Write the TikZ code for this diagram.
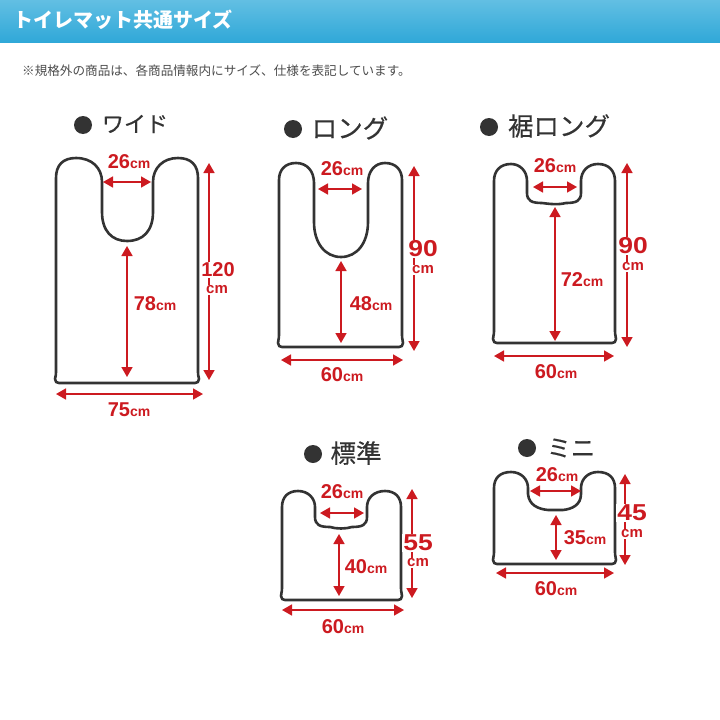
\documentclass[tikz,border=0pt]{standalone}
\usepackage{graphicx}
\usepackage{fontspec}
\setmainfont{Liberation Sans}
\newfontfamily\cjk{Noto Sans CJK JP}
\newfontfamily\cjkheavy[FakeBold=0.4]{Noto Sans CJK JP}
\usetikzlibrary{arrows.meta,positioning}
\definecolor{matgray}{HTML}{333333}
\definecolor{dimred}{HTML}{CC1A20}
\definecolor{headtop}{HTML}{62BFE3}
\definecolor{headbot}{HTML}{30A8D8}
\newcommand{\unitcm}{{\fontsize{14}{14}\selectfont cm}}
\newcommand{\widenum}[1]{\scalebox{1.15}[1]{#1}}
\tikzset{
  matline/.style={draw=matgray, line width=2.6pt, line join=round},
  dimline/.style={draw=dimred, line width=1.7pt, {Triangle[length=10pt,width=11pt]}-{Triangle[length=10pt,width=11pt]}},
  dimlabel/.style={text=dimred, font=\fontsize{20}{20}\selectfont\bfseries, inner sep=0pt},
  bignum/.style={dimlabel, fill=white, inner sep=1pt, font=\fontsize{23}{23}\selectfont\bfseries},
  bigunit/.style={dimlabel, fill=white, inner sep=1pt, font=\fontsize{15}{15}\selectfont\bfseries},
  dot/.style={circle, fill=matgray, minimum size=18pt, inner sep=0pt},
  kind/.style={text=matgray, font=\cjkheavy\fontsize{25.5}{25.5}\selectfont, inner sep=0pt}
}

\begin{document}
\begin{tikzpicture}[x=1pt, y=-1pt]
        \useasboundingbox (0,0) rectangle (720,720);
        % header
        \fill[top color=headtop, bottom color=headbot] (0,0) rectangle (720,42);
        \node[text=white, anchor=west, inner sep=0pt, font=\cjk\bfseries\fontsize{20}{20}\selectfont] (head) at (13,20) {トイレマット共通サイズ};
        \node[text=black!70, anchor=west, inner sep=0pt, font=\cjk\fontsize{12.6}{12.6}\selectfont] (note) at (22,71) {※規格外の商品は、各商品情報内にサイズ、仕様を表記しています。};

        % outlines
        \draw[matline] (56,372) -- (56,178) .. controls (56,165) and (63,158) .. (76,158) .. controls (92,158) and (102,168) .. (102,182)
            -- (102,212) .. controls (102,231) and (112,241) .. (127,241) .. controls (143,241) and (153,231) .. (153,212) -- (153,182)
            .. controls (153,168) and (163,158) .. (178,158) .. controls (191,158) and (198,165) .. (198,178) -- (198,372)
            .. controls (198,376) and (199,378) .. (199,379) .. controls (199,382) and (197,383) .. (195,383) -- (59,383)
            .. controls (57,383) and (55,382) .. (55,379) .. controls (55,378) and (56,376) .. (56,372) -- cycle;
        \draw[matline] (279,335) -- (279,180) .. controls (279,170) and (285,163) .. (296,163) .. controls (307,163) and (314,171) .. (314,183)
            -- (314,222) .. controls (314,243) and (325,257) .. (341,257) .. controls (357,257) and (368,243) .. (368,222) -- (368,183)
            .. controls (368,171) and (375,163) .. (385,163) .. controls (396,163) and (402,170) .. (402,180) -- (402,335)
            .. controls (402,339) and (403,341) .. (403,343) .. controls (403,346) and (401,347) .. (399,347) -- (282,347)
            .. controls (280,347) and (278,346) .. (278,343) .. controls (278,341) and (279,339) .. (279,335) -- cycle;
        \draw[matline] (494,331) -- (494,181) .. controls (494,171) and (500,164) .. (511,164) .. controls (520,164) and (527,171) .. (527,181)
            -- (527,193) .. controls (527,201) and (532,203) .. (542,203) .. controls (550,204) and (558,205) .. (566,203) .. controls (576,203) and (581,201) .. (581,193) -- (581,181)
            .. controls (581,171) and (588,164) .. (598,164) .. controls (609,164) and (615,171) .. (615,181) -- (615,331)
            .. controls (615,335) and (616,337) .. (616,339) .. controls (616,342) and (614,343) .. (612,343) -- (497,343)
            .. controls (495,343) and (493,342) .. (493,339) .. controls (493,337) and (494,335) .. (494,331) -- cycle;
        \draw[matline] (282,588) -- (282,507) .. controls (282,497) and (288,491) .. (298,491) .. controls (308,491) and (315,498) .. (315,507)
            -- (315,517) .. controls (315,525) and (320,527) .. (330,527) .. controls (337,529) and (345,529) .. (352,527) .. controls (362,527) and (367,525) .. (367,517) -- (367,507)
            .. controls (367,498) and (374,491) .. (385,491) .. controls (395,491) and (401,497) .. (401,507) -- (401,588)
            .. controls (401,592) and (402,594) .. (402,596) .. controls (402,599) and (400,600) .. (398,600) -- (285,600)
            .. controls (283,600) and (281,599) .. (281,596) .. controls (281,594) and (282,592) .. (282,588) -- cycle;
        \draw[matline] (494,552) -- (494,488) .. controls (494,478) and (500,472) .. (511,472) .. controls (521,472) and (528,479) .. (528,488)
            -- (528,494) .. controls (529,505) and (538,509) .. (548,510) .. controls (553,510) and (558,510) .. (563,510) .. controls (572,509) and (581,505) .. (581,494) -- (581,488)
            .. controls (581,479) and (588,472) .. (598,472) .. controls (609,472) and (615,478) .. (615,488) -- (615,552)
            .. controls (615,556) and (616,558) .. (616,560) .. controls (616,563) and (614,564) .. (612,564) -- (497,564)
            .. controls (495,564) and (493,563) .. (493,560) .. controls (493,558) and (494,556) .. (494,552) -- cycle;

        % arrow ends
        \coordinate (w_n1) at (103,182);  \coordinate (w_n2) at (151,182);
        \coordinate (w_v1) at (127,246);  \coordinate (w_v2) at (127,377);
        \coordinate (w_h1) at (209,163);  \coordinate (w_h2) at (209,380);
        \coordinate (w_b1) at (56,394);   \coordinate (w_b2) at (203,394);
        \coordinate (l_n1) at (318,189);  \coordinate (l_n2) at (362,189);
        \coordinate (l_v1) at (341,261);  \coordinate (l_v2) at (341,343);
        \coordinate (l_h1) at (414,166);  \coordinate (l_h2) at (414,351);
        \coordinate (l_b1) at (281,360);  \coordinate (l_b2) at (403,360);
        \coordinate (e_n1) at (533,187);  \coordinate (e_n2) at (577,187);
        \coordinate (e_v1) at (555,207);  \coordinate (e_v2) at (555,341);
        \coordinate (e_h1) at (627,163);  \coordinate (e_h2) at (627,347);
        \coordinate (e_b1) at (494,356);  \coordinate (e_b2) at (614,356);
        \coordinate (s_n1) at (320,513);  \coordinate (s_n2) at (364,513);
        \coordinate (s_v1) at (339,534);  \coordinate (s_v2) at (339,596);
        \coordinate (s_h1) at (412,489);  \coordinate (s_h2) at (412,598);
        \coordinate (s_b1) at (282,610);  \coordinate (s_b2) at (404,610);
        \coordinate (m_n1) at (530,491);  \coordinate (m_n2) at (581,491);
        \coordinate (m_v1) at (556,515);  \coordinate (m_v2) at (556,560);
        \coordinate (m_h1) at (625,474);  \coordinate (m_h2) at (625,565);
        \coordinate (m_b1) at (496,573);  \coordinate (m_b2) at (614,573);

        \draw[dimline] (w_n1) -- (w_n2);
        \draw[dimline] (w_v1) -- (w_v2);
        \draw[dimline] (w_h1) -- (w_h2);
        \draw[dimline] (w_b1) -- (w_b2);
        \draw[dimline] (l_n1) -- (l_n2);
        \draw[dimline] (l_v1) -- (l_v2);
        \draw[dimline] (l_h1) -- (l_h2);
        \draw[dimline] (l_b1) -- (l_b2);
        \draw[dimline] (e_n1) -- (e_n2);
        \draw[dimline] (e_v1) -- (e_v2);
        \draw[dimline] (e_h1) -- (e_h2);
        \draw[dimline] (e_b1) -- (e_b2);
        \draw[dimline] (s_n1) -- (s_n2);
        \draw[dimline] (s_v1) -- (s_v2);
        \draw[dimline] (s_h1) -- (s_h2);
        \draw[dimline] (s_b1) -- (s_b2);
        \draw[dimline] (m_n1) -- (m_n2);
        \draw[dimline] (m_v1) -- (m_v2);
        \draw[dimline] (m_h1) -- (m_h2);
        \draw[dimline] (m_b1) -- (m_b2);

        % wide
        \node[dot]      (w_dot)  at (83,125)  {};
        \node[kind, font=\cjkheavy\fontsize{22}{22}\selectfont] (w_kind) at (135,124) {ワイド};
        \node[dimlabel] (w_26)   at (129,162) {26\unitcm};
        \node[dimlabel] (w_78)   at (155,304) {78\unitcm};
        \node[dimlabel] (w_75)   at (129,410) {75\unitcm};
        \node[bignum, font=\fontsize{20}{20}\selectfont\bfseries] (w_120) at (218,270) {120};
        \node[bigunit]  (w_cm)   at (217,290) {cm};
        % long
        \node[dot]      (l_dot)  at (293,129) {};
        \node[kind]     (l_kind) at (350,128) {ロング};
        \node[dimlabel] (l_26)   at (342,169) {26\unitcm};
        \node[dimlabel] (l_48)   at (371,304) {48\unitcm};
        \node[dimlabel] (l_60)   at (342,375) {60\unitcm};
        \node[bignum]   (l_90)   at (423,249) {\widenum{90}};
        \node[bigunit]  (l_cm)   at (423,270) {cm};
        % hem long
        \node[dot]      (e_dot)  at (489,127) {};
        \node[kind]     (e_kind) at (559,126) {裾ロング};
        \node[dimlabel] (e_26)   at (555,166) {26\unitcm};
        \node[dimlabel] (e_72)   at (582,280) {72\unitcm};
        \node[dimlabel] (e_60)   at (556,372) {60\unitcm};
        \node[bignum]   (e_90)   at (633,246) {\widenum{90}};
        \node[bigunit]  (e_cm)   at (633,267) {cm};
        % standard
        \node[dot]      (s_dot)  at (313,454) {};
        \node[kind]     (s_kind) at (356,453) {標準};
        \node[dimlabel] (s_26)   at (342,492) {26\unitcm};
        \node[dimlabel] (s_40)   at (366,567) {40\unitcm};
        \node[dimlabel] (s_60)   at (343,627) {60\unitcm};
        \node[bignum]   (s_55)   at (418,543) {\widenum{55}};
        \node[bigunit]  (s_cm)   at (418,563) {cm};
        % mini
        \node[dot]      (m_dot)  at (527,448) {};
        \node[kind, font=\cjkheavy\fontsize{24}{24}\selectfont] (m_kind) at (571,448) {ミニ};
        \node[dimlabel] (m_26)   at (557,475) {26\unitcm};
        \node[dimlabel] (m_35)   at (585,538) {35\unitcm};
        \node[dimlabel] (m_60)   at (556,589) {60\unitcm};
        \node[bignum]   (m_45)   at (632,513) {\widenum{45}};
        \node[bigunit]  (m_cm)   at (632,534) {cm};
\end{tikzpicture}
\end{document}
